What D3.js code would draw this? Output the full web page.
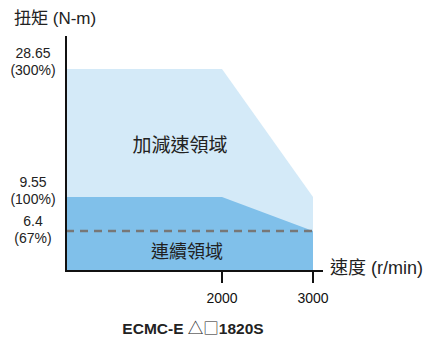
<!DOCTYPE html>
<html>
<head>
<meta charset="utf-8">
<script src="https://cdn.jsdelivr.net/npm/d3@7"></script>
<style>
body { margin: 0; background: #fff; }
text { font-family: "Liberation Sans", Arial, "Noto Sans CJK TC", sans-serif; fill: #222; }
.cjk { font-family: "Liberation Sans", "Noto Sans CJK TC", sans-serif; }
</style>
</head>
<body>
<svg width="426" height="340"></svg>
<script>
// speed breakpoints (r/min) and torque (N-m)
var speeds = [0, 2000, 3000];
var accelTorque = [28.65, 28.65, 9.55];
var contTorque = [9.55, 9.55, 6.4];
var ratedLine = 6.4;
var yTicks = [
    {val: 28.65, pct: "(300%)"},
    {val: 9.55, pct: "(100%)"},
    {val: 6.4, pct: "(67%)"}
];
var xTicks = [2000, 3000];

var svg = d3.select("svg");

// schematic, not to scale -> piecewise scales
var xScale = d3.scaleLinear().domain([0, 2000, 3000]).range([66, 222, 313]);
var yScale = d3.scaleLinear().domain([0, 6.4, 9.55, 28.65]).range([271, 231, 197, 69]);

var accelData = speeds.map(function(s, i) { return {x: s, y: accelTorque[i]}; });
var contData = speeds.map(function(s, i) { return {x: s, y: contTorque[i]}; });

var area = d3.area()
    .x(function(d) { return xScale(d.x); })
    .y0(yScale(0))
    .y1(function(d) { return yScale(d.y); });

svg.append("path")
    .datum(accelData)
    .attr("fill", "#d4eaf8")
    .attr("d", area);

svg.append("path")
    .datum(contData)
    .attr("fill", "#80c0ea")
    .attr("d", area);

// dashed line at 67%
svg.append("line")
    .attr("x1", xScale(0))
    .attr("x2", xScale(3000))
    .attr("y1", yScale(ratedLine))
    .attr("y2", yScale(ratedLine))
    .attr("stroke", "#777")
    .attr("stroke-width", 2.5)
    .attr("stroke-dasharray", "8,6");

// axes
svg.append("line")
    .attr("x1", 66).attr("x2", 66)
    .attr("y1", 36).attr("y2", 272)
    .attr("stroke", "#111").attr("stroke-width", 2);

svg.append("line")
    .attr("x1", 65).attr("x2", 323)
    .attr("y1", 271).attr("y2", 271)
    .attr("stroke", "#111").attr("stroke-width", 2);

svg.selectAll(".xtick")
    .data(xTicks)
    .enter()
    .append("line")
    .attr("class", "xtick")
    .attr("x1", function(d) { return xScale(d); })
    .attr("x2", function(d) { return xScale(d); })
    .attr("y1", 271).attr("y2", 283)
    .attr("stroke", "#111").attr("stroke-width", 2);

svg.selectAll(".xlabel")
    .data(xTicks)
    .enter()
    .append("text")
    .attr("class", "xlabel")
    .attr("x", function(d) { return xScale(d); })
    .attr("y", 303)
    .attr("text-anchor", "middle")
    .attr("font-size", 14)
    .style("fill", "#111")
    .text(function(d) { return d; });

// y labels, two lines each
var yOff = [-11, -10, -5];
var yl = svg.selectAll(".ylabel")
    .data(yTicks)
    .enter()
    .append("g")
    .attr("class", "ylabel");

yl.append("text")
    .attr("x", 33)
    .attr("y", function(d, i) { return yScale(d.val) + yOff[i]; })
    .attr("text-anchor", "middle")
    .attr("font-size", 14)
    .text(function(d) { return d.val; });

yl.append("text")
    .attr("x", 33)
    .attr("y", function(d, i) { return yScale(d.val) + yOff[i] + 17; })
    .attr("text-anchor", "middle")
    .attr("font-size", 14)
    .text(function(d) { return d.pct; });

svg.append("text")
    .attr("class", "cjk")
    .attr("x", 14).attr("y", 24)
    .attr("font-size", 17)
    .text("扭矩 (N-m)");

svg.append("text")
    .attr("class", "cjk")
    .attr("x", 330).attr("y", 274)
    .attr("font-size", 18)
    .text("速度 (r/min)");

svg.append("text")
    .attr("class", "cjk")
    .attr("x", 180).attr("y", 152)
    .attr("text-anchor", "middle")
    .attr("font-size", 19)
    .text("加減速領域");

svg.append("text")
    .attr("class", "cjk")
    .attr("x", 187).attr("y", 258)
    .attr("text-anchor", "middle")
    .attr("font-size", 18)
    .text("連續領域");

var title = svg.append("text")
    .attr("x", 193).attr("y", 334)
    .attr("text-anchor", "middle")
    .attr("font-size", 15.5)
    .attr("font-weight", "bold");
title.append("tspan").text("ECMC-E ");
title.append("tspan")
    .style("font-family", "'Noto Sans CJK TC'")
    .attr("font-weight", "normal")
    .text("△□");
title.append("tspan").text("1820S");
</script>
</body>
</html>
